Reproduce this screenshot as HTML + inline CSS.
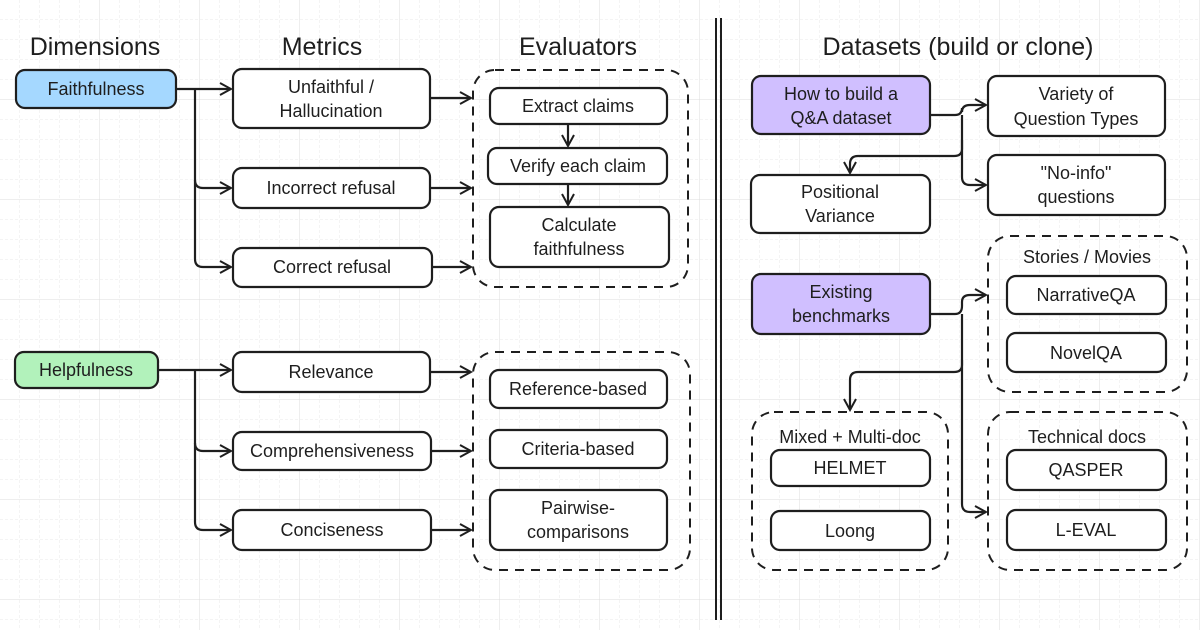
<!DOCTYPE html>
<html><head><meta charset="utf-8"><style>
html,body{margin:0;padding:0;background:#fff}
svg{display:block}
text{font-family:"Liberation Sans","DejaVu Sans",sans-serif;fill:#1e1e1e}
</style></head><body>
<svg width="1200" height="630" viewBox="0 0 1200 630" xmlns="http://www.w3.org/2000/svg">
<defs>
<pattern id="g" width="20" height="20" patternUnits="userSpaceOnUse">
<path d="M20 0V20M0 20H20" stroke="#e8e8e8" stroke-width="1" stroke-dasharray="3 2" fill="none"/>
</pattern>
<pattern id="G" width="100" height="100" patternUnits="userSpaceOnUse">
<path d="M100 0V100M0 100H100" stroke="#dcdcdc" stroke-width="1" fill="none"/>
</pattern>
<marker id="a" markerWidth="14" markerHeight="14" refX="12" refY="7" orient="auto" markerUnits="userSpaceOnUse">
<path d="M1 1L12 7L1 13" fill="none" stroke="#1e1e1e" stroke-width="2"/>
</marker>
</defs>
<rect width="1200" height="630" fill="url(#g)"/>
<rect width="1200" height="630" fill="url(#G)"/>
<g font-size="25" text-anchor="middle">
<text x="95" y="55">Dimensions</text>
<text x="322" y="55">Metrics</text>
<text x="578" y="55">Evaluators</text>
<text x="958" y="55">Datasets (build or clone)</text>
</g>
<line x1="716" y1="18" x2="716" y2="620" stroke="#1e1e1e" stroke-width="2"/>
<line x1="721" y1="18" x2="721" y2="620" stroke="#1e1e1e" stroke-width="2"/>
<g stroke="#1e1e1e" stroke-width="2" fill="none" stroke-dasharray="9 7">
<rect x="473" y="70" width="215" height="217" rx="22"/>
<rect x="473" y="352" width="217" height="218" rx="22"/>
<rect x="988" y="236" width="199" height="156" rx="22"/>
<rect x="752" y="412" width="196" height="158" rx="22"/>
<rect x="988" y="412" width="199" height="158" rx="22"/>
</g>
<g stroke="#1e1e1e" stroke-width="2.2">
<rect x="16" y="70" width="160" height="38" rx="9" fill="#a5d8ff"/>
<rect x="15" y="352" width="143" height="36" rx="9" fill="#b2f2bb"/>
<rect x="752" y="76" width="178" height="58" rx="9" fill="#d0bfff"/>
<rect x="752" y="274" width="178" height="60" rx="9" fill="#d0bfff"/>
<g fill="#fff">
<rect x="233" y="69" width="197" height="59" rx="9"/>
<rect x="233" y="168" width="197" height="40" rx="9"/>
<rect x="233" y="248" width="199" height="39" rx="9"/>
<rect x="233" y="352" width="197" height="40" rx="9"/>
<rect x="233" y="432" width="198" height="38" rx="9"/>
<rect x="233" y="510" width="198" height="40" rx="9"/>
<rect x="490" y="88" width="177" height="36" rx="9"/>
<rect x="488" y="148" width="179" height="36" rx="9"/>
<rect x="490" y="207" width="179" height="60" rx="9"/>
<rect x="490" y="370" width="177" height="38" rx="9"/>
<rect x="490" y="430" width="177" height="38" rx="9"/>
<rect x="490" y="490" width="177" height="60" rx="9"/>
<rect x="988" y="76" width="177" height="60" rx="9"/>
<rect x="988" y="155" width="177" height="60" rx="9"/>
<rect x="751" y="175" width="179" height="58" rx="9"/>
<rect x="1007" y="276" width="159" height="38" rx="9"/>
<rect x="1007" y="333" width="159" height="39" rx="9"/>
<rect x="771" y="450" width="159" height="36" rx="9"/>
<rect x="771" y="511" width="159" height="39" rx="9"/>
<rect x="1007" y="450" width="159" height="40" rx="9"/>
<rect x="1007" y="510" width="159" height="40" rx="9"/>
</g>
</g>
<g stroke="#1e1e1e" stroke-width="2.2" fill="none" marker-end="url(#a)">
<path d="M176 89H231"/>
<path d="M195 89V180Q195 188 203 188H231"/>
<path d="M195 180V259Q195 267 203 267H231"/>
<path d="M158 370H231"/>
<path d="M195 370V443Q195 451 203 451H231"/>
<path d="M195 443V522Q195 530 203 530H231"/>
<path d="M430 98H471"/><path d="M430 188H471"/><path d="M432 267H471"/>
<path d="M430 372H471"/><path d="M431 451H471"/><path d="M431 530H471"/>
<path d="M568 124V146"/><path d="M568 184V205"/>
<path d="M930 115H955Q962 115 962 108V112Q962 105 970 105H986"/>
<path d="M962 115V177Q962 185 970 185H986"/>
<path d="M962 140V149Q962 156 954 156H858Q850 156 850 164V173"/>
<path d="M930 314H955Q962 314 962 306V302Q962 295 970 295H986"/>
<path d="M962 314V504Q962 512 970 512H986"/>
<path d="M962 360V365Q962 372 954 372H858Q850 372 850 380V410"/>
</g>
<g font-size="18" text-anchor="middle">
<text x="96" y="95">Faithfulness</text>
<text x="86" y="376">Helpfulness</text>
<text x="331" y="93">Unfaithful /</text>
<text x="331" y="117">Hallucination</text>
<text x="331" y="194">Incorrect refusal</text>
<text x="332" y="273">Correct refusal</text>
<text x="331" y="378">Relevance</text>
<text x="332" y="457">Comprehensiveness</text>
<text x="332" y="536">Conciseness</text>
<text x="578" y="112">Extract claims</text>
<text x="578" y="172">Verify each claim</text>
<text x="579" y="231">Calculate</text>
<text x="579" y="255">faithfulness</text>
<text x="578" y="395">Reference-based</text>
<text x="578" y="455">Criteria-based</text>
<text x="578" y="514">Pairwise-</text>
<text x="578" y="538">comparisons</text>
<text x="841" y="100">How to build a</text>
<text x="841" y="124">Q&amp;A dataset</text>
<text x="1076" y="100">Variety of</text>
<text x="1076" y="125">Question Types</text>
<text x="1076" y="179">"No-info"</text>
<text x="1076" y="203">questions</text>
<text x="840" y="198">Positional</text>
<text x="840" y="222">Variance</text>
<text x="1087" y="263">Stories / Movies</text>
<text x="1086" y="301">NarrativeQA</text>
<text x="1086" y="359">NovelQA</text>
<text x="841" y="298">Existing</text>
<text x="841" y="322">benchmarks</text>
<text x="850" y="443">Mixed + Multi-doc</text>
<text x="850" y="474">HELMET</text>
<text x="850" y="537">Loong</text>
<text x="1087" y="443">Technical docs</text>
<text x="1086" y="476">QASPER</text>
<text x="1086" y="536">L-EVAL</text>
</g>
</svg>
</body></html>
